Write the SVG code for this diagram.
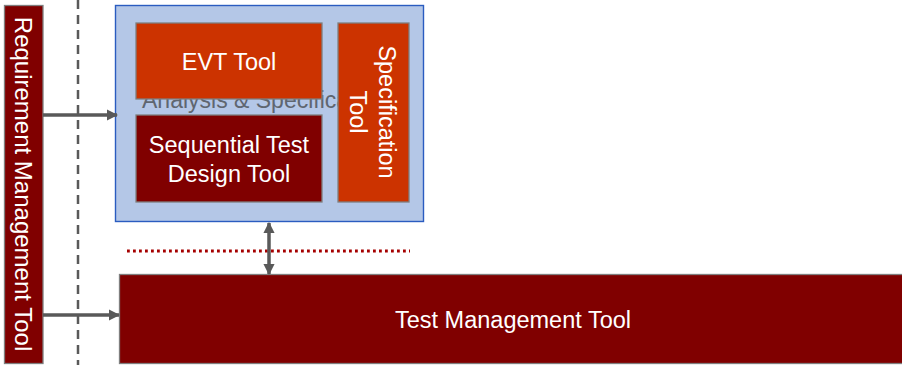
<svg xmlns="http://www.w3.org/2000/svg" width="902" height="365" viewBox="0 0 902 365">
<style>
.lbl{font-family:"Liberation Sans",Arial,sans-serif;font-size:23.5px;fill:#ffffff;text-anchor:middle}
.box{stroke:#7f7f7f;stroke-width:1.3}
.conn{stroke:#595959;stroke-width:3.5;fill:none}
</style>
<defs>
<marker id="ah" viewBox="0 0 10 10" refX="9" refY="5" markerWidth="3.3" markerHeight="3.4" orient="auto-start-reverse">
<path d="M0,0 L10,5 L0,10 z" fill="#595959"/>
</marker>
</defs>
<rect width="902" height="365" fill="#ffffff"/>
<g id="divider">
<line x1="78" y1="0" x2="78" y2="365" stroke="#595959" stroke-width="2.5" stroke-dasharray="9,6"/>
</g>
<g id="req">
<rect class="box" x="4.5" y="5.5" width="38.5" height="358" fill="#800000"/>
<text class="lbl" style="font-size:24px" transform="translate(23.5,184) rotate(90)" y="8.5">Requirement Management Tool</text>
</g>
<g id="analysis">
<rect x="115.5" y="5.5" width="308" height="216" fill="#b4c7e7" stroke="#2a5cc0" stroke-width="1.4"/>
<text x="142" y="108" font-family="Liberation Sans, Arial, sans-serif" font-size="23" fill="#5f6670">Analysis &amp; Specification</text>
</g>
<g id="evt">
<rect class="box" x="136" y="23" width="186" height="76" fill="#cc3300"/>
<text class="lbl" x="229" y="70">EVT Tool</text>
</g>
<g id="seq">
<rect class="box" x="136" y="115" width="186" height="87" fill="#800000"/>
<text class="lbl" x="229" y="153">Sequential Test</text>
<text class="lbl" x="229" y="182">Design Tool</text>
</g>
<g id="spec">
<rect class="box" x="338" y="23" width="71" height="179" fill="#cc3300"/>
<text class="lbl" transform="translate(373.5,112) rotate(90)"><tspan x="0" y="-5.5">Specification</tspan><tspan x="0" y="23.5">Tool</tspan></text>
</g>
<g id="testmgmt">
<rect class="box" x="119.5" y="274.5" width="790" height="89" fill="#800000"/>
<text class="lbl" x="513" y="328">Test Management Tool</text>
</g>
<g id="connectors">
<line x1="127" y1="251" x2="410" y2="251" stroke="#a50000" stroke-width="2.8" stroke-dasharray="2.8,3.2"/>
<line class="conn" x1="43" y1="115" x2="117" y2="115" marker-end="url(#ah)"/>
<line class="conn" x1="43" y1="315" x2="119" y2="315" marker-end="url(#ah)"/>
<line class="conn" x1="269" y1="223" x2="269" y2="274" marker-start="url(#ah)" marker-end="url(#ah)"/>
</g>
</svg>
